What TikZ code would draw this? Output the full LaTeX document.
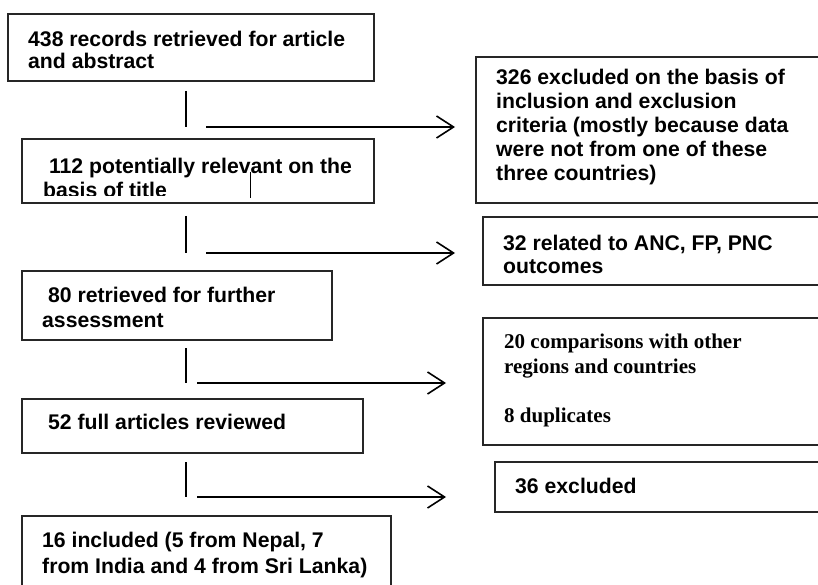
\documentclass[tikz,border=0pt]{standalone}
\usepackage{fontspec}
\setmainfont{Liberation Sans}
\newfontfamily\timesfont{Liberation Serif}
\usetikzlibrary{arrows.meta}
\begin{document}
\begin{tikzpicture}[x=1pt,y=-1pt,
  box/.style={draw=black!85, line width=1.1pt, anchor=north west, inner sep=0pt, outer sep=0pt},
  txt/.style={anchor=base west, inner sep=0pt, align=left, font=\fontsize{21.2}{24}\selectfont\bfseries},
  vline/.style={line width=1.4pt},
  arr/.style={line width=1.6pt, -{Straight Barb[length=17pt,width=22pt,line width=1.6pt]}}]
\useasboundingbox (0,0) rectangle (818,585);
\clip (0,0) rectangle (818,585);
\fill[white] (0,0) rectangle (818,585);

% left column boxes
\node[box, minimum width=366pt, minimum height=67pt] (b1) at (8,14) {};
\node[box, minimum width=352pt, minimum height=64pt] (b2) at (22,139) {};
\node[box, minimum width=310pt, minimum height=69pt] (b3) at (22,271) {};
\node[box, minimum width=341pt, minimum height=54pt] (b4) at (22,399) {};
\node[box, minimum width=369pt, minimum height=80pt] (b5) at (22,516) {};

% right column boxes
\node[box, minimum width=360pt, minimum height=146pt] (r1) at (476,57) {};
\node[box, minimum width=360pt, minimum height=68pt] (r2) at (483,217) {};
\node[box, minimum width=360pt, minimum height=127pt] (r3) at (483,318) {};
\node[box, minimum width=360pt, minimum height=50pt] (r4) at (495,462) {};

% texts (multi-line nodes: base anchor = last line baseline)
\node[txt, font=\fontsize{21.2}{22}\selectfont\bfseries] (t1) at (28,68.5) {438 records retrieved for article\\and abstract};
\begin{scope}
\clip (22,139) rectangle (374,196);
\node[txt] (t2) at (43,198) {\ 112 potentially relevant on the\\basis of title};
\end{scope}
\node[txt, font=\fontsize{21.2}{25}\selectfont\bfseries] (t3) at (42,327) {\ 80 retrieved for further\\assessment};
\node[txt] (t4) at (42,429) {\ 52 full articles reviewed};
\node[txt, font=\fontsize{21.2}{26}\selectfont\bfseries] (t5) at (42,573) {16 included (5 from Nepal, 7\\from India and 4 from Sri Lanka)};

\node[txt, font=\fontsize{21.2}{24}\selectfont\bfseries] (s1) at (496,181) {326 excluded on the basis of\\inclusion and exclusion\\criteria (mostly because data\\were not from one of these\\three countries)};
\node[txt, font=\fontsize{21.2}{23}\selectfont\bfseries] (s2) at (503,273) {32 related to ANC, FP, PNC\\outcomes};
\node[txt, font=\fontsize{21}{25}\timesfont\bfseries] (s3) at (504,422) {20 comparisons with other\\regions and countries\\[24pt]8 duplicates};
\node[txt] (s4) at (515,493) {36 excluded};

% stray mark inside second box
\coordinate (m1) at (250,172);
\coordinate (m2) at (250,198);
\draw[line width=1pt] (m1) -- (m2);

% vertical ticks
\coordinate (v1a) at (186,91);  \coordinate (v1b) at (186,127);
\coordinate (v2a) at (186,216); \coordinate (v2b) at (186,253);
\coordinate (v3a) at (186,348); \coordinate (v3b) at (186,383);
\coordinate (v4a) at (186,462); \coordinate (v4b) at (186,497);
\draw[vline] (v1a) -- (v1b);
\draw[vline] (v2a) -- (v2b);
\draw[vline] (v3a) -- (v3b);
\draw[vline] (v4a) -- (v4b);

% arrows
\coordinate (a1s) at (206,127); \coordinate (a1e) at (455,127);
\coordinate (a2s) at (206,253); \coordinate (a2e) at (455,253);
\coordinate (a3s) at (197,383); \coordinate (a3e) at (446,383);
\coordinate (a4s) at (197,497); \coordinate (a4e) at (446,497);
\draw[arr] (a1s) -- (a1e);
\draw[arr] (a2s) -- (a2e);
\draw[arr] (a3s) -- (a3e);
\draw[arr] (a4s) -- (a4e);
\end{tikzpicture}
\end{document}
